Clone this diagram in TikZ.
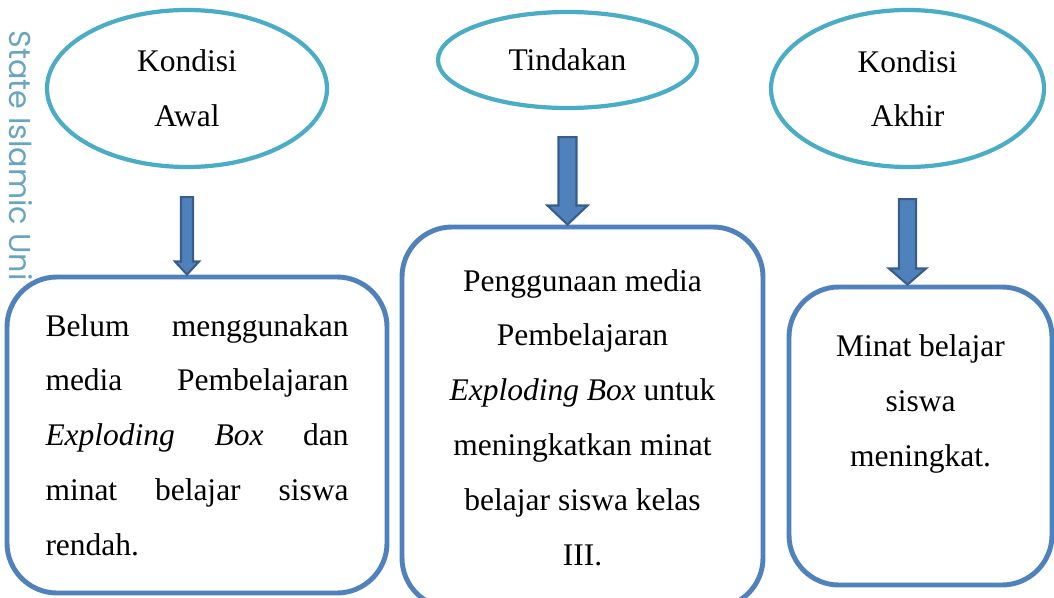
\documentclass[tikz,border=0pt]{standalone}
\usepackage{fontspec}
\setmainfont{Liberation Serif}
\newfontfamily\wmfont{Poppins}
\usepackage{xcolor}
\usepackage{tikz}
\usetikzlibrary{shapes}
\usetikzlibrary{calc}
\usetikzlibrary{positioning}
\definecolor{ellblue}{HTML}{4BACC6}
\definecolor{boxblue}{HTML}{4F81BD}
\definecolor{arrowedge}{HTML}{385D8A}
\definecolor{wmark}{RGB}{105,165,190}
\setlength{\parindent}{0pt}
\hyphenpenalty=10000
\exhyphenpenalty=10000
\tolerance=10000
% block arrow from #1 down to #2: half shaft, half head, head length
\newcommand{\blkarrow}[5]{
	\draw[blockarrow] ($(#1)+(-#3,0)$) -- ($(#2)+(-#3,-#5)$) -- ($(#2)+(-#4,-#5)$) -- (#2)
		-- ($(#2)+(#4,-#5)$) -- ($(#2)+(#3,-#5)$) -- ($(#1)+(#3,0)$) -- cycle;
}

\begin{document}
\begin{tikzpicture}[x=0.025cm,y=-0.025cm,
		font=\fontsize{22.4}{39}\selectfont,
		oval/.style={ellipse, draw=ellblue, line width=3pt, align=center, inner sep=0pt},
		roundbox/.style={rectangle, draw=boxblue, fill=white, line width=3.5pt, rounded corners=1.25cm},
		blockarrow/.style={fill=boxblue, draw=arrowedge, line width=1.5pt}]
		\def\px{0.025cm}
		\useasboundingbox (0,0) rectangle (1054,598);
		
		% watermark, cut off at the first box
		\begin{scope}
			\clip (0,0) rectangle (40,278);
			\node[font=\wmfont\fontsize{21.5}{21.5}\selectfont, text=wmark, rotate=-90, anchor=west, inner sep=0pt] (wm) at (17,30) {State Islamic University};
		\end{scope}
		
		\node[oval, minimum width=280*\px, minimum height=157*\px] (awal) at (187,88.5) {Kondisi\\Awal};
		\node[oval, minimum width=259*\px, minimum height=96*\px] (tindakan) at (567.5,60) {Tindakan};
		\node[oval, minimum width=273*\px, minimum height=157*\px] (akhir) at (907.5,88.5) {Kondisi\\Akhir};
		
		\node[roundbox, minimum width=380*\px, minimum height=316*\px, text width=303*\px, align=justify] (awalbox) at (197,435) {Belum menggunakan media Pembelajaran \textit{Exploding Box} dan minat belajar siswa rendah.};
		\node[roundbox, minimum width=361*\px, minimum height=381*\px, align=center] (tindakanbox) at (582.5,417.5) {Penggunaan media\\Pembelajaran\\\textit{Exploding Box} untuk\\meningkatkan minat\\belajar siswa kelas\\III.};
		\node[roundbox, minimum width=263*\px, minimum height=298*\px, align=center] (akhirbox) at (920.5,436) {Minat belajar\\siswa\\meningkat.\\\strut};
		
		\coordinate[below=0.7cm of awal] (awaltop);
		\coordinate[below=0.675cm of tindakan] (tindakantop);
		\coordinate[below=0.75cm of akhir] (akhirtop);
		\coordinate (awaltip) at (awaltop |- awalbox.north);
		\coordinate (tindakantip) at (tindakantop |- tindakanbox.north);
		\coordinate (akhirtip) at (akhirtop |- akhirbox.north);
		
		\blkarrow{awaltop}{awaltip}{6}{12}{13}
		\blkarrow{tindakantop}{tindakantip}{9}{20}{19}
		\blkarrow{akhirtop}{akhirtip}{8.5}{18.5}{16}
		\end{tikzpicture}
\end{document}
